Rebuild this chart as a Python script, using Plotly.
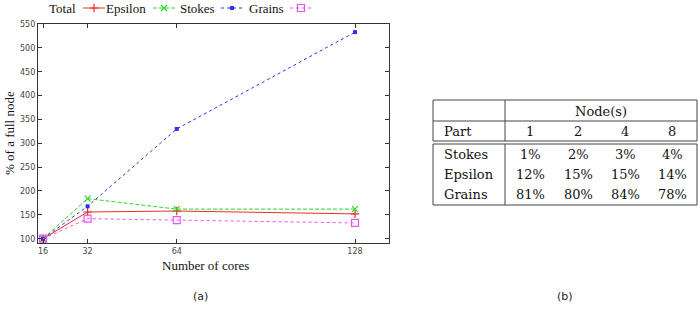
import plotly.graph_objects as go

# ---- data ----
cores = [16, 32, 64, 128]
total = [100, 156, 158, 152]
epsilon = [100, 184, 162, 162]
stokes = [100, 168, 330, 533]
grains = [100, 142, 139, 133]
series_names = ["Total", "Epsilon", "Stokes", "Grains"]
y_ticks = [100, 150, 200, 250, 300, 350, 400, 450, 500, 550]

table_nodes = ["1", "2", "4", "8"]
table_parts = ["Stokes", "Epsilon", "Grains"]
stokes_pct = ["1%", "2%", "3%", "4%"]
epsilon_pct = ["12%", "15%", "15%", "14%"]
grains_pct = ["81%", "80%", "84%", "78%"]

W, H = 698, 312
fig = go.Figure()

styles = [
    dict(color="#e8302c", dash="solid", symbol="cross-thin", msize=6, mline=1.2),
    dict(color="#2fd42f", dash="4px,2px", symbol="x-thin", msize=6, mline=1.2),
    dict(color="#3030f0", dash="dot", symbol="square", msize=4, mline=0),
    dict(color="#f050f0", dash="dot", symbol="square-open", msize=7, mline=1.2),
]
values = [total, epsilon, stokes, grains]

for name, vals, st in zip(series_names, values, styles):
    fig.add_trace(go.Scatter(
        x=cores, y=vals, mode="lines+markers", name=name, showlegend=False,
        line=dict(color=st["color"], width=1, dash=st["dash"]),
        marker=dict(symbol=st["symbol"], size=st["msize"], color=st["color"],
                    line=dict(color=st["color"], width=st["mline"])),
    ))

serif = "Liberation Serif"
slab = "DejaVu Serif"

# ---- gnuplot-style key (text then sample) on a pixel overlay axis ----
key_text_right = [78, 148, 217, 286]
key_sample = [(83, 105), (153, 175), (221, 243), (290, 312)]
key_y = 8
for name, st, tr, (s0, s1) in zip(series_names, styles, key_text_right, key_sample):
    fig.add_trace(go.Scatter(
        x=[s0, s1], y=[key_y, key_y], xaxis="x2", yaxis="y2", mode="lines",
        line=dict(color=st["color"], width=1, dash=st["dash"]),
        showlegend=False, hoverinfo="skip"))
    fig.add_trace(go.Scatter(
        x=[(s0 + s1) / 2], y=[key_y], xaxis="x2", yaxis="y2", mode="markers",
        marker=dict(symbol=st["symbol"], size=st["msize"], color=st["color"],
                    line=dict(color=st["color"], width=st["mline"])),
        showlegend=False, hoverinfo="skip"))
    fig.add_annotation(x=tr, y=key_y, xref="x2", yref="y2", text=name,
                       showarrow=False, xanchor="right", yanchor="middle",
                       font=dict(family=serif, size=13, color="#111"))

annotations_font = dict(family=serif, size=13, color="#111")
fig.add_annotation(x=205, y=265, xref="x2", yref="y2", text="Number of cores",
                   showarrow=False, xanchor="center", yanchor="middle", font=annotations_font)
fig.add_annotation(x=9, y=133, xref="x2", yref="y2", text="% of a full node",
                   showarrow=False, textangle=-90, xanchor="center", yanchor="middle",
                   font=annotations_font)
cap_font = dict(family="DejaVu Sans", size=11, color="#222")
fig.add_annotation(x=200, y=296, xref="x2", yref="y2", text="(a)", showarrow=False, font=cap_font)
fig.add_annotation(x=565, y=296, xref="x2", yref="y2", text="(b)", showarrow=False, font=cap_font)

# ---- table (b) ----
tl, tr_, tv = 433, 697, 505
lc = "#444"
lines = [
    (tl, 100, tr_, 100), (tl, 121, tr_, 121), (tl, 141, tr_, 141),
    (tl, 100, tl, 141), (tr_, 100, tr_, 141), (tv, 100, tv, 141),
    (tl, 144, tr_, 144), (tl, 205, tr_, 205),
    (tl, 144, tl, 205), (tr_, 144, tr_, 205), (tv, 144, tv, 205),
]
for x0, y0, x1, y1 in lines:
    fig.add_shape(type="line", x0=x0, y0=y0, x1=x1, y1=y1, xref="x2", yref="y2",
                  line=dict(color=lc, width=1))

tfont = dict(family=slab, size=13, color="#111")
col_x = [530, 578, 625, 672]
fig.add_annotation(x=601, y=111, xref="x2", yref="y2", text="Node(s)", showarrow=False, font=tfont)
fig.add_annotation(x=442, y=131, xref="x2", yref="y2", text="Part", showarrow=False,
                   xanchor="left", font=tfont)
for cx, n in zip(col_x, table_nodes):
    fig.add_annotation(x=cx, y=131, xref="x2", yref="y2", text=n, showarrow=False, font=tfont)
row_y = [154, 174, 194]
for ry, part, pcts in zip(row_y, table_parts, [stokes_pct, epsilon_pct, grains_pct]):
    fig.add_annotation(x=442, y=ry, xref="x2", yref="y2", text=part, showarrow=False,
                       xanchor="left", font=tfont)
    for cx, p in zip(col_x, pcts):
        fig.add_annotation(x=cx, y=ry, xref="x2", yref="y2", text=p, showarrow=False, font=tfont)

tickfont = dict(family="DejaVu Sans", size=8, color="#444")
fig.update_layout(
    width=W, height=H, margin=dict(l=0, r=0, t=0, b=0),
    paper_bgcolor="white", plot_bgcolor="rgba(0,0,0,0)",
    xaxis=dict(domain=[38 / W, 389 / W], range=[14.2, 140.2], tickvals=cores,
               ticks="inside", ticklen=4, tickcolor="#333", mirror="ticks",
               showline=True, linecolor="#333", linewidth=1.3, showgrid=False,
               zeroline=False, tickfont=tickfont, automargin=False),
    yaxis=dict(domain=[1 - 243 / H, 1 - 24 / H], range=[91, 550], tickvals=y_ticks,
               ticks="inside", ticklen=4, tickcolor="#333", mirror="ticks",
               showline=True, linecolor="#333", linewidth=1.3, showgrid=False,
               zeroline=False, tickfont=tickfont, automargin=False),
    xaxis2=dict(domain=[0, 1], range=[0, W], visible=False, anchor="y2", fixedrange=True),
    yaxis2=dict(domain=[0, 1], range=[H, 0], visible=False, anchor="x2", fixedrange=True),
    showlegend=False,
)

fig.write_html("out.html")
